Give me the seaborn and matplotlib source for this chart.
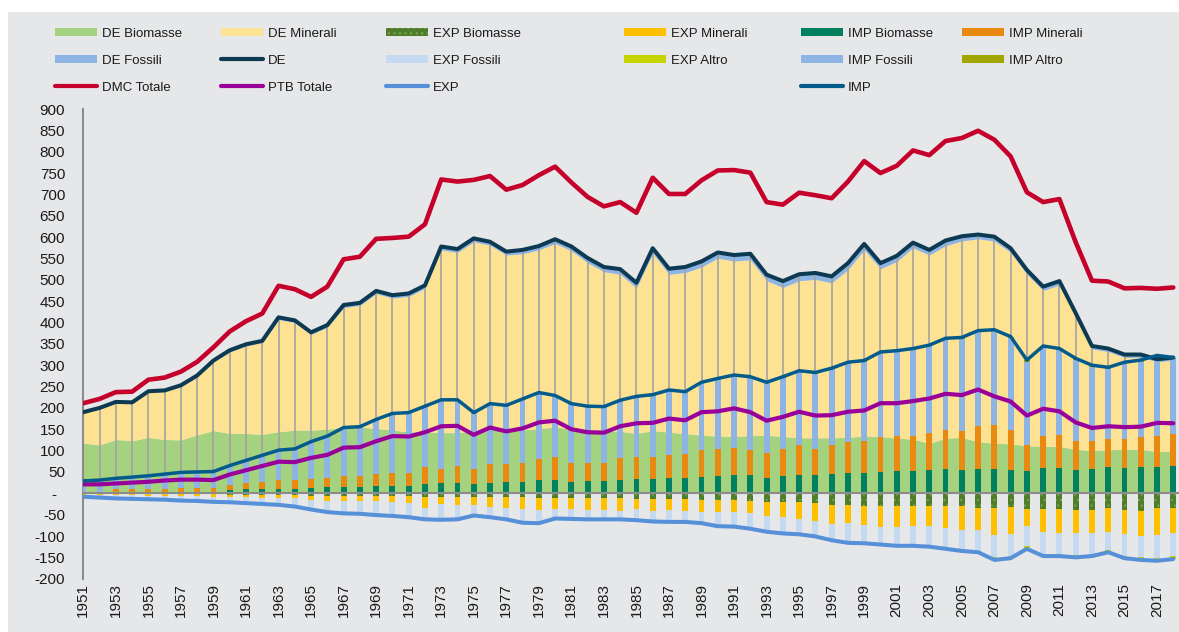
import matplotlib
matplotlib.use("Agg")
import matplotlib.pyplot as plt
from matplotlib.lines import Line2D
from matplotlib.patches import Patch, Rectangle
import numpy as np
import pandas as pd
import seaborn as sns

years = list(range(1951, 2019))

# DE (estrazione interna), Mt
de_biomasse = [118, 113, 126, 123, 131, 126, 125, 137, 147, 140,
               140, 138, 144, 148, 148, 150, 155, 155, 152, 148,
               144, 144, 142, 142, 147, 155, 145, 148, 152, 155,
               151, 148, 147, 145, 140, 147, 143, 140, 136, 134,
               133, 135, 136, 133, 130, 130, 130, 131, 134, 133,
               129, 127, 117, 129, 131, 121, 117, 116, 111, 110,
               110, 103, 100, 102, 103, 103, 98, 98]
de_minerali = [70, 85, 86, 88, 105, 112, 125, 136, 161, 191,
               205, 215, 263, 252, 224, 239, 280, 285, 316, 309,
               317, 336, 428, 422, 442, 426, 413, 413, 418, 430,
               417, 392, 372, 368, 341, 415, 370, 377, 394, 417,
               411, 412, 362, 349, 368, 371, 363, 393, 436, 393,
               414, 448, 441, 451, 460, 475, 474, 448, 402, 365,
               378, 311, 238, 230, 215, 216, 210, 214]
de_fossili = [2, 2, 2, 2, 3, 3, 3, 3, 3, 4,
              4, 4, 5, 5, 5, 5, 6, 6, 6, 7,
              7, 7, 8, 8, 8, 8, 8, 9, 9, 10,
              10, 11, 11, 12, 12, 12, 13, 13, 13, 13,
              14, 14, 14, 15, 15, 15, 15, 15, 14, 13,
              13, 12, 12, 12, 11, 10, 10, 10, 10, 9,
              9, 8, 7, 7, 7, 6, 6, 6]

# IMP
imp_biomasse = [1, 1, 2, 2, 2, 2, 3, 3, 3, 8,
                10, 9, 11, 11, 13, 14, 15, 15, 17, 18,
                18, 22, 23, 23, 22, 25, 26, 27, 31, 31,
                27, 28, 28, 30, 33, 33, 35, 36, 39, 40,
                44, 42, 37, 41, 43, 43, 45, 47, 48, 50,
                52, 53, 55, 56, 55, 58, 58, 55, 53, 60,
                60, 55, 58, 62, 60, 61, 62, 64]
imp_minerali = [2, 3, 7, 7, 9, 9, 10, 10, 10, 12,
                14, 18, 21, 19, 20, 22, 25, 25, 29, 30,
                29, 39, 35, 41, 35, 43, 42, 44, 49, 54,
                45, 43, 42, 52, 52, 52, 54, 55, 63, 63,
                63, 60, 57, 62, 69, 61, 68, 72, 75, 83,
                82, 81, 86, 92, 92, 100, 101, 93, 60, 74,
                77, 68, 65, 65, 68, 72, 73, 74]
imp_fossili = [26, 27, 26, 29, 30, 34, 36, 37, 38, 44,
               52, 61, 68, 73, 87, 97, 113, 115, 126, 138,
               141, 142, 160, 154, 131, 141, 137, 149, 155, 142,
               136, 131, 131, 134, 140, 144, 151, 145, 156, 164,
               168, 169, 164, 168, 172, 176, 177, 185, 185, 195,
               197, 202, 203, 212, 215, 220, 221, 216, 195, 207,
               198, 189, 173, 164, 175, 175, 184, 176]
imp_altro = [0, 0, 0, 0, 0, 0, 0, 0, 0, 1,
             1, 1, 1, 1, 1, 1, 1, 1, 1, 1,
             1, 1, 1, 1, 1, 1, 1, 1, 1, 2,
             2, 2, 2, 2, 2, 2, 2, 2, 2, 2,
             2, 2, 2, 2, 3, 3, 3, 3, 3, 3,
             3, 3, 3, 3, 3, 3, 3, 3, 4, 4,
             4, 4, 4, 4, 4, 4, 4, 4]

# EXP (negativi)
exp_biomasse = [-1, -1, -1, -1, -1, -1, -1, -1, -1, -3,
                -3, -3, -3, -3, -6, -6, -6, -6, -6, -6,
                -6, -9, -9, -9, -9, -9, -9, -9, -12, -12,
                -12, -12, -12, -12, -14, -14, -14, -14, -16, -16,
                -16, -17, -20, -20, -20, -23, -27, -27, -30, -30,
                -30, -30, -30, -30, -30, -35, -35, -33, -36, -36,
                -37, -39, -38, -35, -39, -41, -35, -34]
exp_minerali = [-2, -3, -4, -4, -5, -5, -6, -6, -7, -6,
                -6, -7, -8, -9, -10, -11, -11, -13, -13, -14,
                -16, -26, -16, -18, -19, -24, -25, -28, -27, -25,
                -25, -27, -27, -29, -23, -27, -25, -27, -28, -28,
                -28, -30, -32, -36, -41, -43, -45, -43, -44, -48,
                -50, -47, -47, -52, -56, -52, -63, -62, -41, -54,
                -57, -55, -56, -55, -56, -59, -63, -60]
exp_fossili = [-5, -6, -7, -8, -8, -9, -10, -11, -12, -12,
               -14, -15, -16, -19, -22, -27, -30, -29, -32, -33,
               -34, -26, -37, -34, -24, -23, -27, -32, -31, -22,
               -23, -22, -22, -20, -26, -25, -28, -24, -24, -31,
               -32, -34, -36, -36, -33, -31, -34, -42, -39, -38,
               -39, -42, -44, -44, -45, -47, -52, -51, -47, -51,
               -47, -50, -47, -42, -51, -50, -54, -54]
exp_altro = [0, 0, 0, 0, 0, 0, 0, 0, 0, 0,
             0, 0, 0, 0, 0, 0, 0, 0, 0, 0,
             0, 0, 0, 0, 0, 0, 0, 0, 0, 0,
             0, 0, 0, 0, 0, 0, 0, -2, -2, -2,
             -2, -2, -2, -2, -2, -4, -4, -4, -4, -4,
             -4, -4, -4, -4, -4, -4, -6, -6, -6, -6,
             -6, -6, -6, -6, -6, -6, -6, -6]

df = pd.DataFrame({"year": years,
                   "de_bio": de_biomasse, "de_min": de_minerali, "de_fos": de_fossili,
                   "imp_bio": imp_biomasse, "imp_min": imp_minerali,
                   "imp_fos": imp_fossili, "imp_alt": imp_altro,
                   "exp_bio": exp_biomasse, "exp_min": exp_minerali,
                   "exp_fos": exp_fossili, "exp_alt": exp_altro})
df["pos"] = np.arange(len(df))
df["DE"] = df[["de_bio", "de_min", "de_fos"]].sum(axis=1)
df["IMP"] = df[["imp_bio", "imp_min", "imp_fos", "imp_alt"]].sum(axis=1)
df["EXP"] = df[["exp_bio", "exp_min", "exp_fos", "exp_alt"]].sum(axis=1)
df["PTB"] = df["IMP"] + df["EXP"]
df["DMC"] = df["DE"] + df["PTB"]

BG = "#E6E7E9"
GREY = "#8C8C8C"
C = {
    "de_bio": "#A4D27E", "de_min": "#FEE293", "de_fos": "#8EB4E3",
    "imp_bio": "#00805E", "imp_min": "#E88A12", "imp_fos": "#8EB4E3", "imp_alt": "#A1A500",
    "exp_bio": "#4F7D2A", "exp_min": "#FFC000", "exp_fos": "#C5D9F1", "exp_alt": "#C8D400",
    "DE": "#0D3A53", "DMC": "#C4002B", "PTB": "#990099", "EXP": "#5690D8", "IMP": "#035B8C",
}

sns.set_style("white")
plt.rcParams["font.family"] = ["Liberation Sans", "DejaVu Sans"]
plt.rcParams["hatch.linewidth"] = 0.8

W, H = 1179, 632
fig = plt.figure(figsize=(W / 100, H / 100), dpi=100)
fig.patch.set_facecolor("white")
fig.add_artist(Rectangle((8 / W, 0), 1, 1 - 12 / H, transform=fig.transFigure,
                         facecolor=BG, edgecolor="none", zorder=-10))

ax = fig.add_axes([82.5 / W, 1 - 578.7 / H, (W - 82.5) / W, 469.7 / H])
ax.set_facecolor("none")
x = df["pos"].values

# aree DE
ax.stackplot(x, df["de_bio"], df["de_min"], df["de_fos"],
             colors=[C["de_bio"], C["de_min"], C["de_fos"]], lw=0, zorder=1)
ax.vlines(x, 0, df["DE"], color="#A3A3A3", lw=1.2, zorder=2)

# barre IMP / EXP
bw = 0.36
bottom = np.zeros(len(df))
for key in ["imp_bio", "imp_min", "imp_fos", "imp_alt"]:
    ax.bar(x, df[key], bw, bottom=bottom, color=C[key], lw=0, zorder=3)
    bottom = bottom + df[key].values
bottom = np.zeros(len(df))
for key in ["exp_bio", "exp_min", "exp_fos", "exp_alt"]:
    kw = dict(hatch="...", edgecolor="#79A650") if key == "exp_bio" else dict(edgecolor="none")
    ax.bar(x, df[key], bw, bottom=bottom, color=C[key], lw=0, zorder=3, **kw)
    bottom = bottom + df[key].values

# linee
for col, lw, z in [("EXP", 2.9, 5), ("PTB", 3.0, 5), ("DE", 2.9, 5),
                   ("IMP", 2.5, 6), ("DMC", 3.3, 5)]:
    sns.lineplot(data=df, x="pos", y=col, ax=ax, color=C[col], lw=lw, zorder=z,
                 legend=False, solid_joinstyle="round", solid_capstyle="round")

ax.set_xlim(-0.05, 67.35)
ax.set_ylim(-200, 900)
ax.set_xlabel("")
ax.set_ylabel("")

for s in ["top", "right"]:
    ax.spines[s].set_visible(False)
ax.spines["left"].set_color(GREY)
ax.spines["left"].set_linewidth(1.5)
ax.spines["bottom"].set_position(("data", 0))
ax.spines["bottom"].set_color(GREY)
ax.spines["bottom"].set_linewidth(1.5)
ax.spines["bottom"].set_zorder(4)

yt = list(range(-200, 901, 50))
ax.set_yticks(yt)
ax.set_yticklabels(["-  " if v == 0 else str(v) for v in yt])
ax.tick_params(axis="y", direction="out", length=3.5, width=1.2, color=GREY,
               labelsize=11, pad=9, labelcolor="#1a1a1a")
ax.set_xticks(x)
ax.set_xticklabels([])
ax.tick_params(axis="x", direction="out", length=3, width=1.2, color=GREY)

sec = ax.secondary_xaxis(0)
sec.set_xticks(x[::2])
sec.set_xticklabels([str(y) for y in years[::2]], rotation=90)
sec.tick_params(length=0, labelsize=11, pad=3, labelcolor="#1a1a1a")
sec.spines["bottom"].set_visible(False)

# legenda a colonne
def patch(c, **kw):
    return Patch(facecolor=c, edgecolor="none", lw=0, **kw)

def line(c):
    return Line2D([], [], color=c, lw=3, solid_capstyle="round")

blank = Line2D([], [], lw=0)
columns = [
    (55, [(patch(C["de_bio"]), "DE Biomasse"), (patch(C["de_fos"]), "DE Fossili"),
          (line(C["DMC"]), "DMC Totale")]),
    (221, [(patch(C["de_min"]), "DE Minerali"), (line(C["DE"]), "DE"),
           (line(C["PTB"]), "PTB Totale")]),
    (386, [(Patch(facecolor=C["exp_bio"], edgecolor="#79A650", lw=0, hatch="..."), "EXP Biomasse"),
           (patch(C["exp_fos"]), "EXP Fossili"), (line(C["EXP"]), "EXP")]),
    (624, [(patch(C["exp_min"]), "EXP Minerali"), (patch(C["exp_alt"]), "EXP Altro"),
           (blank, " ")]),
    (801, [(patch(C["imp_bio"]), "IMP Biomasse"), (patch(C["imp_fos"]), "IMP Fossili"),
           (line(C["IMP"]), "IMP")]),
    (962, [(patch(C["imp_min"]), "IMP Minerali"), (patch(C["imp_alt"]), "IMP Altro"),
           (blank, " ")]),
]
for xp, entries in columns:
    fig.legend([e[0] for e in entries], [e[1] for e in entries],
               loc="upper left", bbox_to_anchor=(xp / W, 1 - 28 / H),
               frameon=False, fontsize=9.5, handlelength=3.2, handleheight=0.55,
               handletextpad=0.35, labelspacing=1.12, borderpad=0, borderaxespad=0,
               labelcolor="#1a1a1a")

fig.savefig("out.png", dpi=100, facecolor=fig.get_facecolor())
